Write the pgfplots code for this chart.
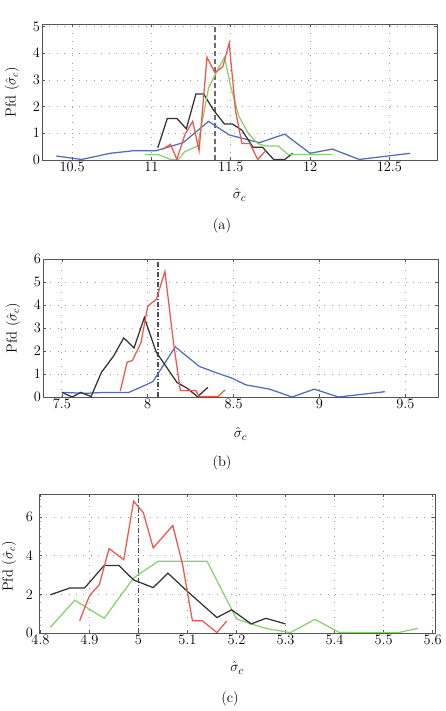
\documentclass[border=0pt]{standalone}
\usepackage{pgfplots}
\pgfplotsset{compat=1.18}
\definecolor{cblue}{HTML}{4F6DB8}
\definecolor{cred}{HTML}{F2544C}
\definecolor{cgreen}{HTML}{8ACF72}
\definecolor{cblack}{HTML}{333333}
\definecolor{frame}{HTML}{555555}
\pgfplotsset{
 panel/.style={
  scale only axis, anchor=south west,
  axis line style={frame, line width=0.9pt},
  grid=major,
  major grid style={gray!75, line width=0.8pt, dash pattern=on 0.9pt off 6.5pt},
  tick align=inside, major tick length=3pt,
  tick style={frame, line width=0.6pt},
  ticklabel style={font=\fontsize{14.5}{16}\selectfont},
  xticklabel style={inner sep=2pt},
  yticklabel style={inner sep=2pt},
  xlabel={$\hat{\sigma}_c$},
  ylabel={Pfd $(\hat{\sigma}_c)$},
  every axis y label/.style={at={(axis description cs:0,0.5)}, xshift=-30pt, rotate=90, anchor=center, font=\fontsize{14.5}{16}\selectfont},
  every axis x label/.style={at={(axis description cs:0.5,0)}, yshift=-35pt, anchor=center, font=\fontsize{15}{16}\selectfont},
  every axis plot/.append style={line width=1.25pt, mark=none},
 }
}
\begin{document}
\begin{tikzpicture}
\path[use as bounding box] (0,0) rectangle (445pt,711pt);
% ---------------- (a)
\begin{axis}[panel, at={(42pt,551pt)}, width=395pt, height=136pt,
  xmin=10.31, xmax=12.8, ymin=0, ymax=5.1,
  xtick={10.5,11,11.5,12,12.5}, ytick={0,1,2,3,4,5}]
\addplot[gray!85!black, line width=1.2pt, dash pattern=on 5pt off 3pt] coordinates {(11.4,0) (11.4,5.1)};
\addplot[cblue] coordinates {(10.40,0.15)(10.56,0.02)(10.74,0.25)(10.89,0.35)(11.03,0.35)(11.20,0.65)(11.36,1.45)(11.49,0.94)(11.68,0.65)(11.84,0.97)(12.00,0.25)(12.14,0.41)(12.31,0.02)(12.63,0.25)};
\addplot[cblack] coordinates {(11.04,0.46)(11.10,1.56)(11.16,1.56)(11.22,1.17)(11.28,2.47)(11.33,2.47)(11.39,1.88)(11.46,1.35)(11.51,1.35)(11.57,1.12)(11.64,0.48)(11.70,0.48)(11.77,0.02)(11.84,0.02)(11.89,0.25)};
\addplot[cgreen] coordinates {(10.96,0.21)(11.04,0.21)(11.12,0.02)(11.17,0.02)(11.21,0.31)(11.29,0.52)(11.36,2.70)(11.41,3.30)(11.46,3.85)(11.50,2.75)(11.55,1.65)(11.61,1.00)(11.67,0.62)(11.72,0.52)(11.80,0.52)(11.86,0.21)(12.14,0.21)};
\addplot[cred] coordinates {(11.07,0.40)(11.12,0.59)(11.16,0.02)(11.21,0.94)(11.26,1.45)(11.30,0.35)(11.35,3.85)(11.40,3.27)(11.45,3.50)(11.49,4.39)(11.53,1.85)(11.57,0.62)(11.62,0.62)(11.67,0.02)(11.72,0.35)};
\end{axis}
% ---------------- (b)
\begin{axis}[panel, at={(43pt,314pt)}, width=395pt, height=138pt,
  xmin=7.39, xmax=9.69, ymin=0, ymax=6,
  xtick={7.5,8,8.5,9,9.5}, ytick={0,1,2,3,4,5,6},
  every axis x label/.append style={yshift=-2pt}]
\addplot[gray!60!black, line width=1.2pt, dash pattern=on 5pt off 2pt on 1pt off 2pt] coordinates {(8.06,0) (8.06,6)};
\addplot[cblue] coordinates {(7.50,0.20)(7.64,0.16)(7.75,0.20)(7.89,0.20)(7.99,0.53)(8.03,0.67)(8.16,2.18)(8.30,1.33)(8.40,1.05)(8.49,0.82)(8.57,0.53)(8.71,0.34)(8.84,0.00)(8.97,0.34)(9.11,0.00)(9.38,0.23)};
\addplot[cblack] coordinates {(7.50,0.20)(7.56,0.00)(7.61,0.20)(7.67,0.02)(7.73,1.07)(7.80,1.77)(7.86,2.57)(7.92,2.13)(7.98,3.45)(8.05,1.94)(8.10,1.40)(8.17,0.63)(8.23,0.38)(8.29,0.01)(8.35,0.42)};
\addplot[cred] coordinates {(7.84,0.26)(7.88,1.52)(7.91,1.58)(7.96,2.35)(8.00,3.95)(8.05,4.25)(8.10,5.46)(8.15,2.35)(8.19,0.28)(8.28,0.28)(8.30,0.02)(8.41,0.02)(8.45,0.31)};
\end{axis}
% ---------------- (c)
\begin{axis}[panel, at={(39pt,78pt)}, width=396pt, height=139pt,
  xmin=4.797, xmax=5.605, ymin=0, ymax=7.2,
  xtick={4.8,4.9,5,5.1,5.2,5.3,5.4,5.5,5.6}, ytick={0,2,4,6},
  yticklabel style={xshift=-4pt},
  every axis y label/.append style={xshift=-3pt}]
\addplot[gray!60!black, line width=1.2pt, dash pattern=on 5pt off 2pt on 1pt off 2pt] coordinates {(5.0,0) (5.0,7.2)};
\addplot[cgreen] coordinates {(4.82,0.29)(4.87,1.70)(4.93,0.76)(4.99,2.85)(5.04,3.71)(5.14,3.71)(5.20,0.73)(5.23,0.47)(5.26,0.24)(5.31,0.02)(5.36,0.71)(5.41,0.02)(5.53,0.02)(5.57,0.24)};
\addplot[cblack] coordinates {(4.82,1.98)(4.86,2.33)(4.89,2.33)(4.93,3.50)(4.96,3.50)(4.99,2.75)(5.03,2.35)(5.06,3.10)(5.10,2.15)(5.16,0.80)(5.19,1.20)(5.23,0.47)(5.26,0.76)(5.30,0.47)};
\addplot[cred] coordinates {(4.88,0.64)(4.90,1.93)(4.92,2.50)(4.94,4.37)(4.97,3.80)(4.99,6.83)(5.01,6.23)(5.03,4.41)(5.07,5.57)(5.09,3.54)(5.11,0.64)(5.13,0.64)(5.16,0.02)(5.18,0.62)};
\end{axis}
\node[font=\fontsize{14.5}{16}\selectfont] at (222pt,485pt) {(a)};
\node[font=\fontsize{14.5}{16}\selectfont] at (222pt,248pt) {(b)};
\node[font=\fontsize{14.5}{16}\selectfont] at (230pt,12pt) {(c)};
\end{tikzpicture}
\end{document}
